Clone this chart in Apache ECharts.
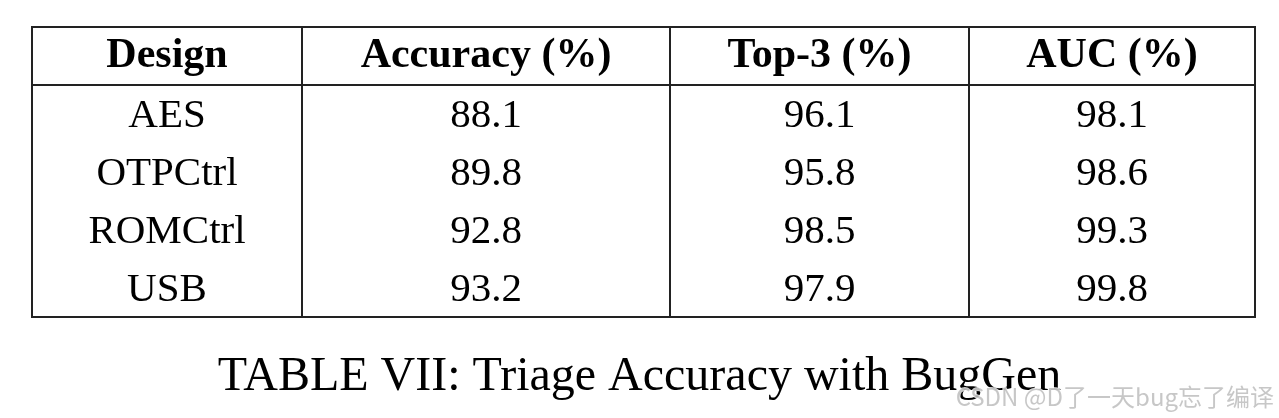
<!DOCTYPE html>
<html>
<head>
<meta charset="utf-8">
<style>
  html, body { margin: 0; padding: 0; background: #fff; }
  #chart { width: 1279px; height: 418px; }
</style>
<script src="https://cdn.jsdelivr.net/npm/echarts@6/dist/echarts.min.js"></script>
</head>
<body>
<div id="chart"></div>
<script>
// ---- data ----
const headers = ['Design', 'Accuracy (%)', 'Top-3 (%)', 'AUC (%)'];
const designs = ['AES', 'OTPCtrl', 'ROMCtrl', 'USB'];
const accuracy = [88.1, 89.8, 92.8, 93.2];
const top3 = [96.1, 95.8, 98.5, 97.9];
const auc = [98.1, 98.6, 99.3, 99.8];
const caption = 'TABLE VII: Triage Accuracy with BugGen';
const watermark = 'CSDN @D了一天bug忘了编译';

// ---- layout (axis units) ----
const colEdges = [0, 270, 638, 937, 1223];
const nRows = designs.length + 1;
const SERIF = '"Liberation Serif", "DejaVu Serif", serif';
const LINE = '#222';

// build cell records: [col, row, text, isHeader]
const cells = [];
headers.forEach((h, c) => cells.push([c, 0, h, 1]));
designs.forEach((d, i) => {
  cells.push([0, i + 1, d, 0]);
  cells.push([1, i + 1, accuracy[i].toFixed(1), 0]);
  cells.push([2, i + 1, top3[i].toFixed(1), 0]);
  cells.push([3, i + 1, auc[i].toFixed(1), 0]);
});

// line records: [x1, y1, x2, y2]
const lines = [];
const xMax = colEdges[colEdges.length - 1];
lines.push([0, 0, xMax, 0]);
lines.push([0, 1, xMax, 1]);
lines.push([0, nRows, xMax, nRows]);
colEdges.forEach(x => lines.push([x, 0, x, nRows]));

const chart = echarts.init(document.getElementById('chart'), null, { renderer: 'canvas' });
chart.setOption({
  backgroundColor: '#fff',
  animation: false,
  title: {
    text: caption,
    left: 'center',
    top: 348,
    textStyle: { fontFamily: SERIF, fontSize: 48, fontWeight: 'normal', color: '#000' }
  },
  graphic: [{
    type: 'text',
    right: 4,
    top: 384,
    z: 100,
    style: {
      text: watermark,
      font: '24px "Noto Sans CJK SC", "Noto Sans", sans-serif',
      fill: 'rgba(175,175,175,0.7)',
      stroke: 'rgba(255,255,255,0.8)',
      lineWidth: 2
    }
  }],
  grid: { left: 32, right: 24, top: 27, bottom: 101 },
  xAxis: { type: 'value', min: 0, max: xMax, show: false },
  yAxis: { type: 'value', min: 0, max: nRows, inverse: true, show: false },
  series: [
    {
      type: 'custom',
      data: cells,
      renderItem: function (params, api) {
        const c = api.value(0), r = api.value(1);
        const rec = cells[params.dataIndex];
        const cx = (colEdges[c] + colEdges[c + 1]) / 2;
        const p = api.coord([cx, r + 0.5]);
        return {
          type: 'text',
          x: p[0],
          y: p[1] + (rec[3] ? 0 : 2),
          style: {
            text: rec[2],
            align: 'center',
            verticalAlign: 'middle',
            fontFamily: SERIF,
            fontSize: rec[3] ? 42 : 41,
            fontWeight: rec[3] ? 'bold' : 'normal',
            fill: '#000'
          }
        };
      }
    },
    {
      type: 'custom',
      data: lines,
      renderItem: function (params, api) {
        const a = api.coord([api.value(0), api.value(1)]);
        const b = api.coord([api.value(2), api.value(3)]);
        return {
          type: 'line',
          shape: { x1: a[0], y1: a[1], x2: b[0], y2: b[1] },
          style: { stroke: LINE, lineWidth: 2, lineCap: 'square' }
        };
      }
    }
  ]
});
</script>
</body>
</html>
